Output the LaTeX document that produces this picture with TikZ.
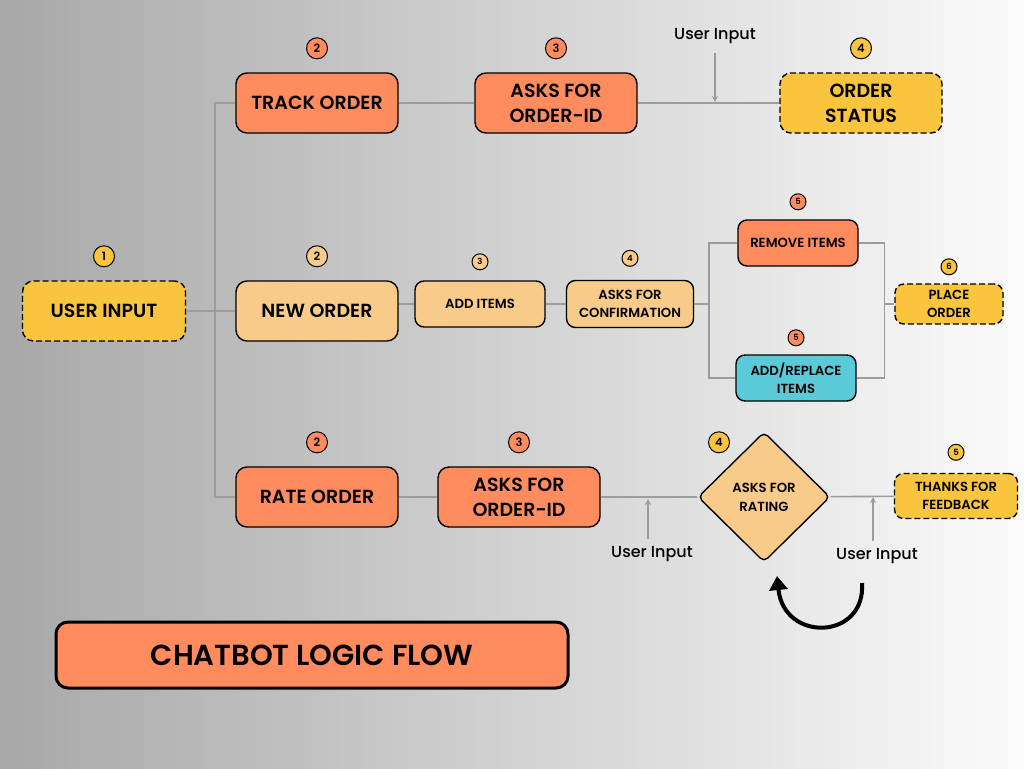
\documentclass[tikz,border=0pt]{standalone}
\usepackage{fontspec}
\setmainfont{Poppins}[BoldFont={Poppins SemiBold}]
\newfontfamily\hintfont{Poppins Medium}
\usetikzlibrary{positioning,calc,shapes.geometric,arrows.meta}
\definecolor{orng}{HTML}{FF8C5F}
\definecolor{yllw}{HTML}{F9C53F}
\definecolor{peach}{HTML}{F9CB8B}
\definecolor{cyn}{HTML}{5BCAD8}
\definecolor{wire}{HTML}{9C9C9C}
\definecolor{bgl}{HTML}{A8A8A8}
\definecolor{bgr}{HTML}{FBFBFB}

\begin{document}
\begin{tikzpicture}[x=1pt,y=-1pt,
		box/.style={draw=black,line width=1.4pt,rounded corners=11pt,align=center,inner sep=0pt,
			font=\bfseries\fontsize{19}{25}\selectfont},
		big/.style={box,minimum width=162pt,minimum height=60pt},
		small/.style={box,rounded corners=9pt,font=\bfseries\fontsize{13.2}{18}\selectfont},
		dashbox/.style={dash pattern=on 6pt off 3pt},
		badge/.style={circle,draw=black,line width=1pt,fill=#1,minimum size=21pt,inner sep=0pt,
			font=\bfseries\fontsize{11.5}{11.5}\selectfont},
		tiny/.style={badge=#1,minimum size=16pt,font=\bfseries\fontsize{8.5}{8.5}\selectfont},
		link/.style={draw=wire,line width=1.6pt},
		hint/.style={font=\hintfont\fontsize{16}{16}\selectfont},
		poke/.style={draw=wire,line width=1.2pt,-{Stealth[length=6pt,width=6pt]}}]
	\useasboundingbox (0,0) rectangle (1024,768);
	\shade[left color=bgl,right color=bgr] (0,0) rectangle (1024,768);

	% boxes
	\node[big,fill=yllw,dashbox,minimum width=163pt] (usr) at (104,311) {USER INPUT};
	\node[big,fill=orng]         (trk)   at (317,103) {TRACK ORDER};
	\node[big,fill=orng]         (oid1)  at (556,103) {ASKS FOR\\ORDER-ID};
	\node[big,fill=yllw,dashbox] (stat)  at (861,103) {ORDER\\STATUS};
	\node[big,fill=peach]        (new)   at (317,311) {NEW ORDER};
	\node[small,fill=peach,minimum width=130pt,minimum height=46pt] (add)  at (480,304) {ADD ITEMS};
	\node[small,fill=peach,minimum width=127pt,minimum height=47pt] (conf) at (630,304) {ASKS FOR\\CONFIRMATION};
	\node[small,fill=orng,minimum width=120pt,minimum height=46pt]  (rem)  at (798,243) {REMOVE ITEMS};
	\node[small,fill=cyn,minimum width=120pt,minimum height=46pt]   (addr) at (796,378) {ADD/REPLACE\\ITEMS};
	\node[small,fill=yllw,dashbox,minimum width=108pt,minimum height=40pt] (place) at (949,304) {PLACE\\ORDER};
	\node[big,fill=orng]         (rate)  at (317,497) {RATE ORDER};
	\node[big,fill=orng]         (oid2)  at (519,497) {ASKS FOR\\ORDER-ID};
	\node[diamond,draw=black,line width=1.4pt,fill=peach,rounded corners=5pt,minimum width=132pt,
		minimum height=130pt,inner sep=0pt,align=center,font=\bfseries\fontsize{13.2}{19}\selectfont]
		(rtg) at (764,497) {ASKS FOR\\RATING};
	\node[small,fill=yllw,dashbox,minimum width=123pt,minimum height=45pt] (thx) at (956,496) {THANKS FOR\\FEEDBACK};
	\node[box,fill=orng,line width=3pt,rounded corners=12pt,minimum width=512pt,minimum height=66pt,
		font=\bfseries\fontsize{29}{29}\selectfont] (ttl) at (312,655) {CHATBOT LOGIC FLOW};

	% step numbers
	\node[badge=yllw,above=13pt of usr]   (n1)  {1};
	\node[badge=orng,above=13pt of trk]   (n2a) {2};
	\node[badge=orng,above=13pt of oid1]  (n3a) {3};
	\node[badge=yllw,above=13pt of stat]  (n4a) {4};
	\node[badge=peach,above=13pt of new]  (n2b) {2};
	\node[tiny=peach,above=10pt of add]   (n3b) {3};
	\node[tiny=peach,above=13pt of conf]  (n4b) {4};
	\node[tiny=orng,above=9pt of rem]     (n5a) {5};
	\node[tiny=orng,above=8pt of addr]    (n5b) {5};
	\node[tiny=yllw,above=8pt of place]   (n6)  {6};
	\node[badge=orng,above=13pt of rate]  (n2c) {2};
	\node[badge=orng,above=13pt of oid2]  (n3c) {3};
	\node[badge=yllw] (n4c) at ([shift={(-45,11)}]rtg.north) {4};
	\node[tiny=yllw,above=12pt of thx]    (n5c) {5};

	% user input hints
	\node[hint] (ui1) at (715,36)  {User Input};
	\node[hint] (ui2) at (652,554) {User Input};
	\node[hint] (ui3) at (877,556) {User Input};
	\coordinate (ui1e) at (715,102);
	\coordinate (ui2e) at (648,499);
	\coordinate (ui3e) at (873,497);

	% links
	\coordinate (split) at (215,311);
	\draw[link] (usr) -- (new);
	\draw[link] (trk.west) -| (split) |- (rate.west);
	\draw[link] (trk) -- (oid1);
	\draw[link] (oid1) -- (stat);
	\draw[link] (new.east |- add.west) -- (add.west);
	\draw[link] (add) -- (conf);
	\coordinate[right=15pt of conf.east] (fork);
	\draw[link] (conf) -- (fork);
	\draw[link] (rem.west) -| (fork) |- (addr.west);
	\coordinate[left=10pt of place.west] (join);
	\draw[link] (rem.east) -| (join) |- (addr.east);
	\draw[link] (join) -- (place);
	\draw[link] (rate) -- (oid2);
	\draw[link] (oid2) -- (rtg);
	\draw[link] (rtg) -- (thx);

	\draw[poke] ([yshift=-6pt]ui1.south) -- (ui1e);
	\draw[poke] ([xshift=-4pt,yshift=4pt]ui2.north) -- (ui2e);
	\draw[poke] ([xshift=-4pt,yshift=4pt]ui3.north) -- (ui3e);

	% rating loop
	\coordinate (loopS) at (862,583);
	\coordinate (loopE) at (777,576);
	\draw[line width=4pt,-{Triangle[length=14pt,width=18pt]}]
		(loopS) .. controls (866,640) and (784,643) .. (loopE);
\end{tikzpicture}
\end{document}
